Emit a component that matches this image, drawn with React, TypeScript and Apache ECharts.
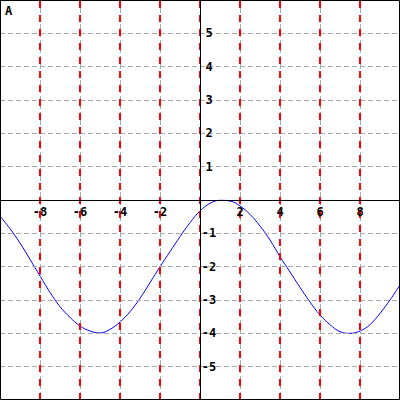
import React, { useEffect, useRef } from "react";
import * as echarts from "echarts";

const xValues = [-10, -9.5, -9, -8.5, -8, -7.5, -7, -6.5, -6, -5.5, -5, -4.5, -4, -3.5, -3, -2.5, -2, -1.5, -1, -0.5, 0, 0.5, 1, 1.5, 2, 2.5, 3, 3.5, 4, 4.5, 5, 5.5, 6, 6.5, 7, 7.5, 8, 8.5, 9, 9.5, 10];
const yValues = [-0.48, -0.86, -1.29, -1.78, -2.28, -2.77, -3.2, -3.52, -3.78, -3.93, -3.99, -3.88, -3.66, -3.35, -2.95, -2.48, -2.0, -1.55, -1.1, -0.68, -0.33, -0.1, -0.01, -0.03, -0.18, -0.43, -0.78, -1.2, -1.7, -2.16, -2.62, -3.06, -3.45, -3.74, -3.95, -4.0, -3.93, -3.74, -3.4, -3.0, -2.55];
const redLineXs = [-8, -6, -4, -2, 0, 2, 4, 6, 8];
const title = "A";

export default function App() {
  const ref = useRef<HTMLDivElement>(null);
  useEffect(() => {
    document.body.style.margin = "0";
    const chart = echarts.init(ref.current!, null, { renderer: "svg" });
    const font = "DejaVu Sans Mono";
    const labelStyle = {
      fontFamily: font,
      fontWeight: "bold",
      fontSize: 12,
      color: "#000",
    };
    chart.setOption({
      animation: false,
      backgroundColor: "#ffffff",
      grid: { left: 0, right: 0, top: 0, bottom: 0, containLabel: false, outerBoundsMode: "none" },
      xAxis: {
        type: "value",
        position: "bottom",
        offset: -200,
        min: -10,
        max: 10,
        interval: 2,
        z: 5,
        axisLine: { onZero: false, lineStyle: { color: "#000", width: 1 } },
        axisTick: { show: false },
        axisLabel: {
          ...labelStyle,
          showMinLabel: false,
          showMaxLabel: false,
          margin: 6,
          hideOverlap: false,
          formatter: (v: number) => (v === 0 ? "" : String(v)),
        },
        splitLine: { show: true, lineStyle: { color: "#aaaaaa", type: [5, 3], width: 1 } },
      },
      yAxis: {
        type: "value",
        position: "left",
        offset: -200,
        min: -6,
        max: 6,
        interval: 1,
        z: 5,
        axisLine: { onZero: false, lineStyle: { color: "#000", width: 1 } },
        axisTick: { show: false },
        axisLabel: {
          ...labelStyle,
          inside: true,
          showMinLabel: false,
          showMaxLabel: false,
          margin: 9,
          align: "center",
          hideOverlap: false,
          formatter: (v: number) => (v === 0 ? "" : String(v)),
        },
        splitLine: { show: true, lineStyle: { color: "#aaaaaa", type: [5, 3], width: 1 } },
      },
      series: [
        {
          type: "line",
          data: xValues.map((x, i) => [x, yValues[i]]),
          smooth: 0.4,
          showSymbol: false,
          lineStyle: { color: "#0000ff", width: 1 },
          markLine: {
            silent: true,
            symbol: "none",
            label: { show: false },
            lineStyle: { color: "#ff0000", type: [7, 7], width: 2 },
            data: redLineXs.map((x) => ({ xAxis: x })),
          },
        },
      ],
      graphic: [
        {
          type: "rect",
          shape: { x: 0.5, y: 0.5, width: 399, height: 399 },
          style: { fill: "none", stroke: "#000", lineWidth: 1 },
          z: 10,
        },
        {
          type: "text",
          left: 5,
          top: 5,
          style: { text: title, fontFamily: font, fontWeight: "bold", fontSize: 12, fill: "#000" },
          z: 10,
        },
      ],
    });
    return () => chart.dispose();
  }, []);
  return <div ref={ref} style={{ position: "absolute", left: 0, top: 0, width: 400, height: 400 }} />;
}
